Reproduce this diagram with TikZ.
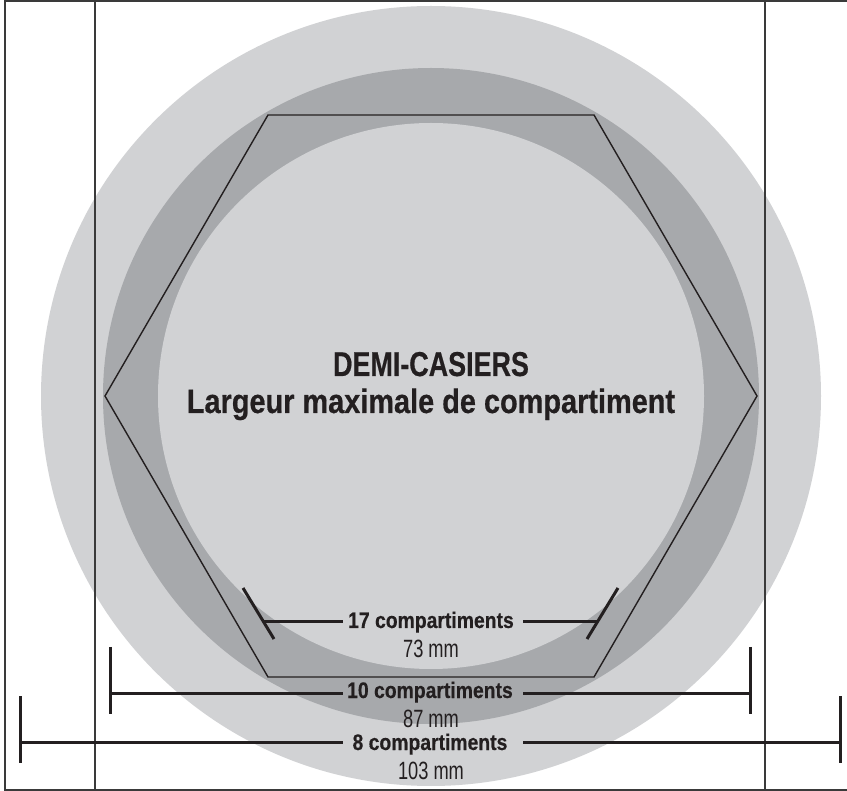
\documentclass[tikz,border=0pt]{standalone}
\usepackage{fontspec}
\newfontfamily\titleA[FakeStretch=0.78, BoldFeatures={FakeBold=0.5}]{Liberation Sans}
\newfontfamily\condB[FakeStretch=0.85, BoldFeatures={FakeBold=0.5}]{Liberation Sans}
\newfontfamily\dimB[FakeStretch=0.86, BoldFeatures={FakeBold=0.4}]{Liberation Sans}
\newfontfamily\dimR[FakeStretch=0.73]{Liberation Sans}
\definecolor{lightg}{HTML}{D1D2D4}
\definecolor{darkg}{HTML}{A7A9AC}
\definecolor{ink}{HTML}{231F20}
\definecolor{framec}{HTML}{3A3A3A}
\tikzset{
  dimline/.style={draw=ink, line width=3pt},
  dimtick/.style={draw=ink, line width=3pt},
  boldlab/.style={anchor=base, inner sep=0pt, text=ink, font=\dimB\bfseries\fontsize{22.5}{26}\selectfont},
  reglab/.style={anchor=base, inner sep=0pt, text=ink, font=\dimR\fontsize{25}{29}\selectfont},
  hexline/.style={draw=ink, line width=1.4pt, line join=miter},
  frameline/.style={draw=framec, line width=1.1pt}
}
\begin{document}
\begin{tikzpicture}[x=1pt,y=-1pt]
\useasboundingbox (0,0) rectangle (847,791);
\fill[white] (0,0) rectangle (847,791);
% circles
\fill[lightg] (431,396) circle[radius=390pt];
\fill[darkg] (431,396) circle[radius=328pt];
\fill[lightg] (431,396) circle[radius=273pt];
% hexagon
\draw[hexline] (105,396) -- (268,115) -- (594,115) -- (757,396) -- (594,677) -- (268,677) -- cycle;
% frame
\draw[frameline] (5,1) rectangle (850,790);
\coordinate (v1t) at (95,1); \coordinate (v1b) at (95,790);
\coordinate (v2t) at (765,1); \coordinate (v2b) at (765,790);
\draw[frameline] (v1t) -- (v1b);
\draw[frameline] (v2t) -- (v2b);
% title
\node[anchor=base, inner sep=0pt, text=ink, font=\titleA\bfseries\fontsize{34.5}{40}\selectfont] (t1) at (431,376) {DEMI-CASIERS};
\node[anchor=base, inner sep=0pt, text=ink, font=\condB\bfseries\fontsize{34}{40}\selectfont] (t2) at (431,413) {Largeur maximale de compartiment};
% 17 compartiments
\coordinate (a17t) at (243,588); \coordinate (a17b) at (274,639);
\coordinate (b17t) at (618,588); \coordinate (b17b) at (587,639);
\coordinate (a17) at (264,622); \coordinate (b17) at (597,622);
\coordinate (ga17) at (343,622); \coordinate (gb17) at (523,622);
\draw[dimtick] (a17t) -- (a17b);
\draw[dimtick] (b17t) -- (b17b);
\draw[dimline] (a17) -- (ga17);
\draw[dimline] (gb17) -- (b17);
\node[boldlab] (l17) at (431,628) {17 compartiments};
\node[reglab] (m17) at (431,657) {73 mm};
% 10 compartiments
\coordinate (a10t) at (110,647); \coordinate (a10b) at (110,714);
\coordinate (b10t) at (750,647); \coordinate (b10b) at (750,714);
\coordinate (a10) at (110,693); \coordinate (b10) at (750,693);
\coordinate (ga10) at (343,693); \coordinate (gb10) at (523,693);
\draw[dimtick] (a10t) -- (a10b);
\draw[dimtick] (b10t) -- (b10b);
\draw[dimline] (a10) -- (ga10);
\draw[dimline] (gb10) -- (b10);
\node[boldlab] (l10) at (430,698) {10 compartiments};
\node[reglab] (m10) at (431,727) {87 mm};
% 8 compartiments
\coordinate (a8t) at (20,696); \coordinate (a8b) at (20,763);
\coordinate (b8t) at (840,696); \coordinate (b8b) at (840,763);
\coordinate (a8) at (20,742); \coordinate (b8) at (840,742);
\coordinate (ga8) at (343,742); \coordinate (gb8) at (523,742);
\draw[dimtick] (a8t) -- (a8b);
\draw[dimtick] (b8t) -- (b8b);
\draw[dimline] (a8) -- (ga8);
\draw[dimline] (gb8) -- (b8);
\node[boldlab] (l8) at (430,750) {8 compartiments};
\node[reglab] (m8) at (431,779) {103 mm};
\end{tikzpicture}
\end{document}
